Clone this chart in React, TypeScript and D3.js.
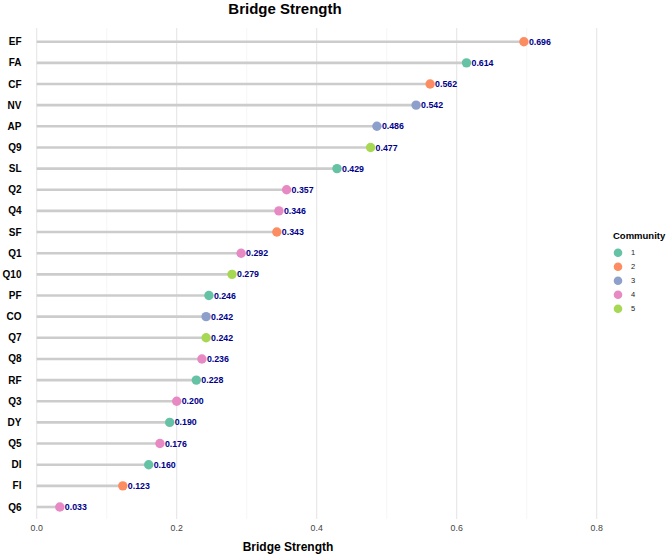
import React, { useEffect, useRef } from "react";
import * as d3 from "d3";

const nodes = ["EF", "FA", "CF", "NV", "AP", "Q9", "SL", "Q2", "Q4", "SF", "Q1", "Q10",
  "PF", "CO", "Q7", "Q8", "RF", "Q3", "DY", "Q5", "DI", "FI", "Q6"];
const strength = [0.696, 0.614, 0.562, 0.542, 0.486, 0.477, 0.429, 0.357, 0.346, 0.343, 0.292, 0.279,
  0.246, 0.242, 0.242, 0.236, 0.228, 0.200, 0.190, 0.176, 0.160, 0.123, 0.033];
const community = [2, 1, 2, 3, 3, 5, 1, 4, 4, 2, 4, 5, 1, 3, 5, 4, 1, 4, 1, 4, 1, 2, 4];
const groups = [1, 2, 3, 4, 5];
const xTicks = [0, 0.2, 0.4, 0.6, 0.8];
const xMinor = [0.1, 0.3, 0.5, 0.7];

const W = 669, H = 555;
const FONT = "'Liberation Sans', Arial, sans-serif";

export default function App() {
  const ref = useRef<SVGSVGElement>(null);

  useEffect(() => {
    const svg = d3.select(ref.current);
    svg.selectAll("*").remove();

    const x = d3.scaleLinear().domain([0, 0.8]).range([36.7, 596.7]);
    const y = d3.scalePoint<string>().domain(nodes).range([41.7, 507]);
    const color = d3.scaleOrdinal<number, string>().domain(groups).range(d3.schemeSet2);
    const panelTop = 28, panelBottom = 519;

    // grid
    const g = svg.append("g");
    g.selectAll(".minor").data(xMinor).join("line")
      .attr("x1", d => x(d)).attr("x2", d => x(d))
      .attr("y1", panelTop).attr("y2", panelBottom)
      .attr("stroke", "#f0f0f0").attr("stroke-width", 0.6);
    g.selectAll(".major").data(xTicks).join("line")
      .attr("x1", d => x(d)).attr("x2", d => x(d))
      .attr("y1", panelTop).attr("y2", panelBottom)
      .attr("stroke", "#e6e6e6").attr("stroke-width", 1.1);

    const rows = nodes.map((n, i) => ({ n, v: strength[i], c: community[i] }));

    // stems
    svg.append("g").selectAll("line").data(rows).join("line")
      .attr("x1", x(0)).attr("x2", d => x(d.v))
      .attr("y1", d => y(d.n)!).attr("y2", d => y(d.n)!)
      .attr("stroke", "#cccccc").attr("stroke-width", 2.6);

    // dots
    svg.append("g").selectAll("circle").data(rows).join("circle")
      .attr("cx", d => x(d.v)).attr("cy", d => y(d.n)!)
      .attr("r", 4.7).attr("fill", d => color(d.c));

    // value labels
    svg.append("g").selectAll("text").data(rows).join("text")
      .attr("x", d => x(d.v) + 5).attr("y", d => y(d.n)!)
      .attr("dy", "0.35em")
      .attr("font-family", FONT).attr("font-size", 8.8).attr("font-weight", "bold")
      .attr("fill", "#00008B")
      .text(d => d.v.toFixed(3));

    // y labels
    svg.append("g").selectAll("text").data(nodes).join("text")
      .attr("x", 21.5).attr("y", d => y(d)!).attr("dy", "0.35em")
      .attr("text-anchor", "end")
      .attr("font-family", FONT).attr("font-size", 10).attr("font-weight", "bold")
      .attr("fill", "#000")
      .text(d => d);

    // x tick labels
    svg.append("g").selectAll("text").data(xTicks).join("text")
      .attr("x", d => x(d)).attr("y", 528).attr("dy", "0.35em")
      .attr("text-anchor", "middle")
      .attr("font-family", FONT).attr("font-size", 8.8)
      .attr("fill", "#444")
      .text(d => d3.format(".1f")(d));

    // titles
    svg.append("text").attr("x", 288).attr("y", 546.5).attr("dy", "0.35em")
      .attr("text-anchor", "middle")
      .attr("font-family", FONT).attr("font-size", 12).attr("font-weight", "bold")
      .text("Bridge Strength");
    svg.append("text").attr("x", 285).attr("y", 9).attr("dy", "0.35em")
      .attr("text-anchor", "middle")
      .attr("font-family", FONT).attr("font-size", 15).attr("font-weight", "bold")
      .text("Bridge Strength");

    // legend
    const leg = svg.append("g").attr("transform", "translate(613,0)");
    leg.append("text").attr("x", 0).attr("y", 236).attr("dy", "0.35em")
      .attr("font-family", FONT).attr("font-size", 9.5).attr("font-weight", "bold")
      .text("Community");
    const items = leg.selectAll("g.item").data(groups).join("g")
      .attr("transform", (d, i) => `translate(0,${252.7 + i * 14})`);
    items.append("circle").attr("cx", 5).attr("cy", 0).attr("r", 4.3)
      .attr("fill", d => color(d));
    items.append("text").attr("x", 18).attr("y", 0).attr("dy", "0.35em")
      .attr("font-family", FONT).attr("font-size", 7.5).attr("fill", "#222")
      .text(d => String(d));
  }, []);

  return (
    <svg ref={ref} width={W} height={H}
      style={{ position: "absolute", left: 0, top: 0, background: "#fff" }} />
  );
}
